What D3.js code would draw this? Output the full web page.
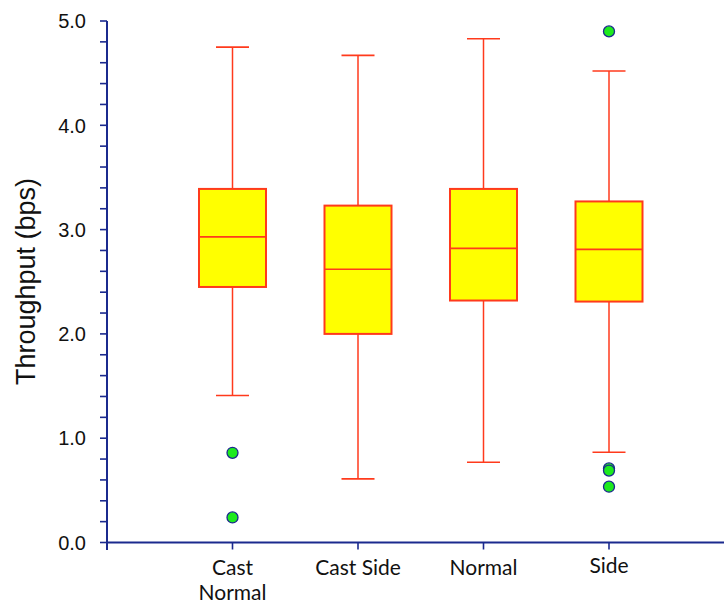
<!DOCTYPE html>
<html>
<head>
<meta charset="utf-8">
<script src="https://cdn.jsdelivr.net/npm/d3@7"></script>
<style>
  html, body { margin: 0; padding: 0; background: #fff; }
  svg { display: block; }
</style>
</head>
<body>
<svg id="chart" width="726" height="606"></svg>
<script>
// Throughput box plots per placement
const categories = ["Cast Normal", "Cast Side", "Normal", "Side"];
const whiskerLow  = [1.41, 0.61, 0.77, 0.865];
const quartile1   = [2.45, 2.00, 2.32, 2.31];
const medians     = [2.93, 2.62, 2.82, 2.81];
const quartile3   = [3.39, 3.23, 3.39, 3.27];
const whiskerHigh = [4.75, 4.67, 4.83, 4.52];
const outliers    = [[0.86, 0.24], [], [], [4.90, 0.71, 0.69, 0.535]];
const yTickLabels = ["0.0", "1.0", "2.0", "3.0", "4.0", "5.0"];

const svg = d3.select("#chart");
const axisColor = "#1b2a8e";
const boxStroke = "#ff3a1c";

const y = d3.scaleLinear().domain([0, 5]).range([542.5, 21]);
const x = d3.scalePoint().domain(categories).range([232.5, 609]);
const axisX = 107, axisRight = 724;

const boxW = 67, capW = 33;

// y axis with minor ticks
const yAxisG = svg.append("g").attr("transform", `translate(${axisX},0)`);
yAxisG.append("line")
  .attr("x1", 0).attr("x2", 0).attr("y1", y(5)).attr("y2", 550)
  .attr("stroke", axisColor).attr("stroke-width", 2);
const minor = d3.range(0, 26).map(i => i * 0.2);
yAxisG.selectAll("line.tick").data(minor).join("line")
  .attr("class", "tick")
  .attr("x1", -7).attr("x2", 0)
  .attr("y1", d => y(d)).attr("y2", d => y(d))
  .attr("stroke", axisColor).attr("stroke-width", 1.6);
yAxisG.selectAll("text").data(yTickLabels).join("text")
  .attr("x", -21).attr("y", d => y(+d))
  .attr("dy", "0.36em")
  .attr("text-anchor", "end")
  .attr("font-family", "Liberation Sans, Arial, sans-serif")
  .attr("font-size", 20)
  .attr("fill", "#111")
  .text(d => d);

// x axis
svg.append("line")
  .attr("x1", axisX).attr("x2", axisRight)
  .attr("y1", y(0)).attr("y2", y(0))
  .attr("stroke", axisColor).attr("stroke-width", 2);
svg.selectAll("line.xtick").data(categories).join("line")
  .attr("class", "xtick")
  .attr("x1", d => x(d)).attr("x2", d => x(d))
  .attr("y1", y(0)).attr("y2", y(0) + 7)
  .attr("stroke", axisColor).attr("stroke-width", 1.6);

// category labels (wrapped on spaces for "Cast Normal")
const labelLines = { "Cast Normal": ["Cast", "Normal"], "Cast Side": ["Cast Side"], "Normal": ["Normal"], "Side": ["Side"] };
const catG = svg.append("g");
categories.forEach((c, i) => {
  const t = catG.append("text")
    .attr("x", x(c))
    .attr("y", i === 3 ? 573 : 575)
    .attr("text-anchor", "middle")
    .attr("font-family", "Lato, 'Open Sans', sans-serif")
    .attr("font-size", 21)
    .attr("fill", "#111");
  labelLines[c].forEach((ln, j) => {
    t.append("tspan").attr("x", x(c)).attr("dy", j === 0 ? 0 : 25).text(ln);
  });
});

// y axis title
svg.append("text")
  .attr("transform", `translate(34.5,281.5) rotate(-90)`)
  .attr("text-anchor", "middle")
  .attr("font-family", "Liberation Sans, Arial, sans-serif")
  .attr("font-size", 27)
  .attr("fill", "#111")
  .text("Throughput (bps)");

// boxes
const boxes = svg.append("g");
categories.forEach((c, i) => {
  const cx = x(c);
  const g = boxes.append("g");
  // whisker stems
  g.append("line").attr("x1", cx).attr("x2", cx)
    .attr("y1", y(whiskerHigh[i])).attr("y2", y(quartile3[i]))
    .attr("stroke", boxStroke).attr("stroke-width", 1.5);
  g.append("line").attr("x1", cx).attr("x2", cx)
    .attr("y1", y(quartile1[i])).attr("y2", y(whiskerLow[i]))
    .attr("stroke", boxStroke).attr("stroke-width", 1.5);
  // caps
  [whiskerHigh[i], whiskerLow[i]].forEach(v => {
    g.append("line").attr("x1", cx - capW / 2).attr("x2", cx + capW / 2)
      .attr("y1", y(v)).attr("y2", y(v))
      .attr("stroke", boxStroke).attr("stroke-width", 1.6);
  });
  // box
  g.append("rect")
    .attr("x", cx - boxW / 2).attr("width", boxW)
    .attr("y", y(quartile3[i])).attr("height", y(quartile1[i]) - y(quartile3[i]))
    .attr("fill", "#ffff00").attr("stroke", boxStroke).attr("stroke-width", 2);
  // median
  g.append("line").attr("x1", cx - boxW / 2).attr("x2", cx + boxW / 2)
    .attr("y1", y(medians[i])).attr("y2", y(medians[i]))
    .attr("stroke", boxStroke).attr("stroke-width", 1.6);
  // outliers
  g.selectAll("circle").data(outliers[i]).join("circle")
    .attr("cx", cx).attr("cy", d => y(d)).attr("r", 5.5)
    .attr("fill", "#1eea1e").attr("stroke", axisColor).attr("stroke-width", 1.3);
});
</script>
</body>
</html>
